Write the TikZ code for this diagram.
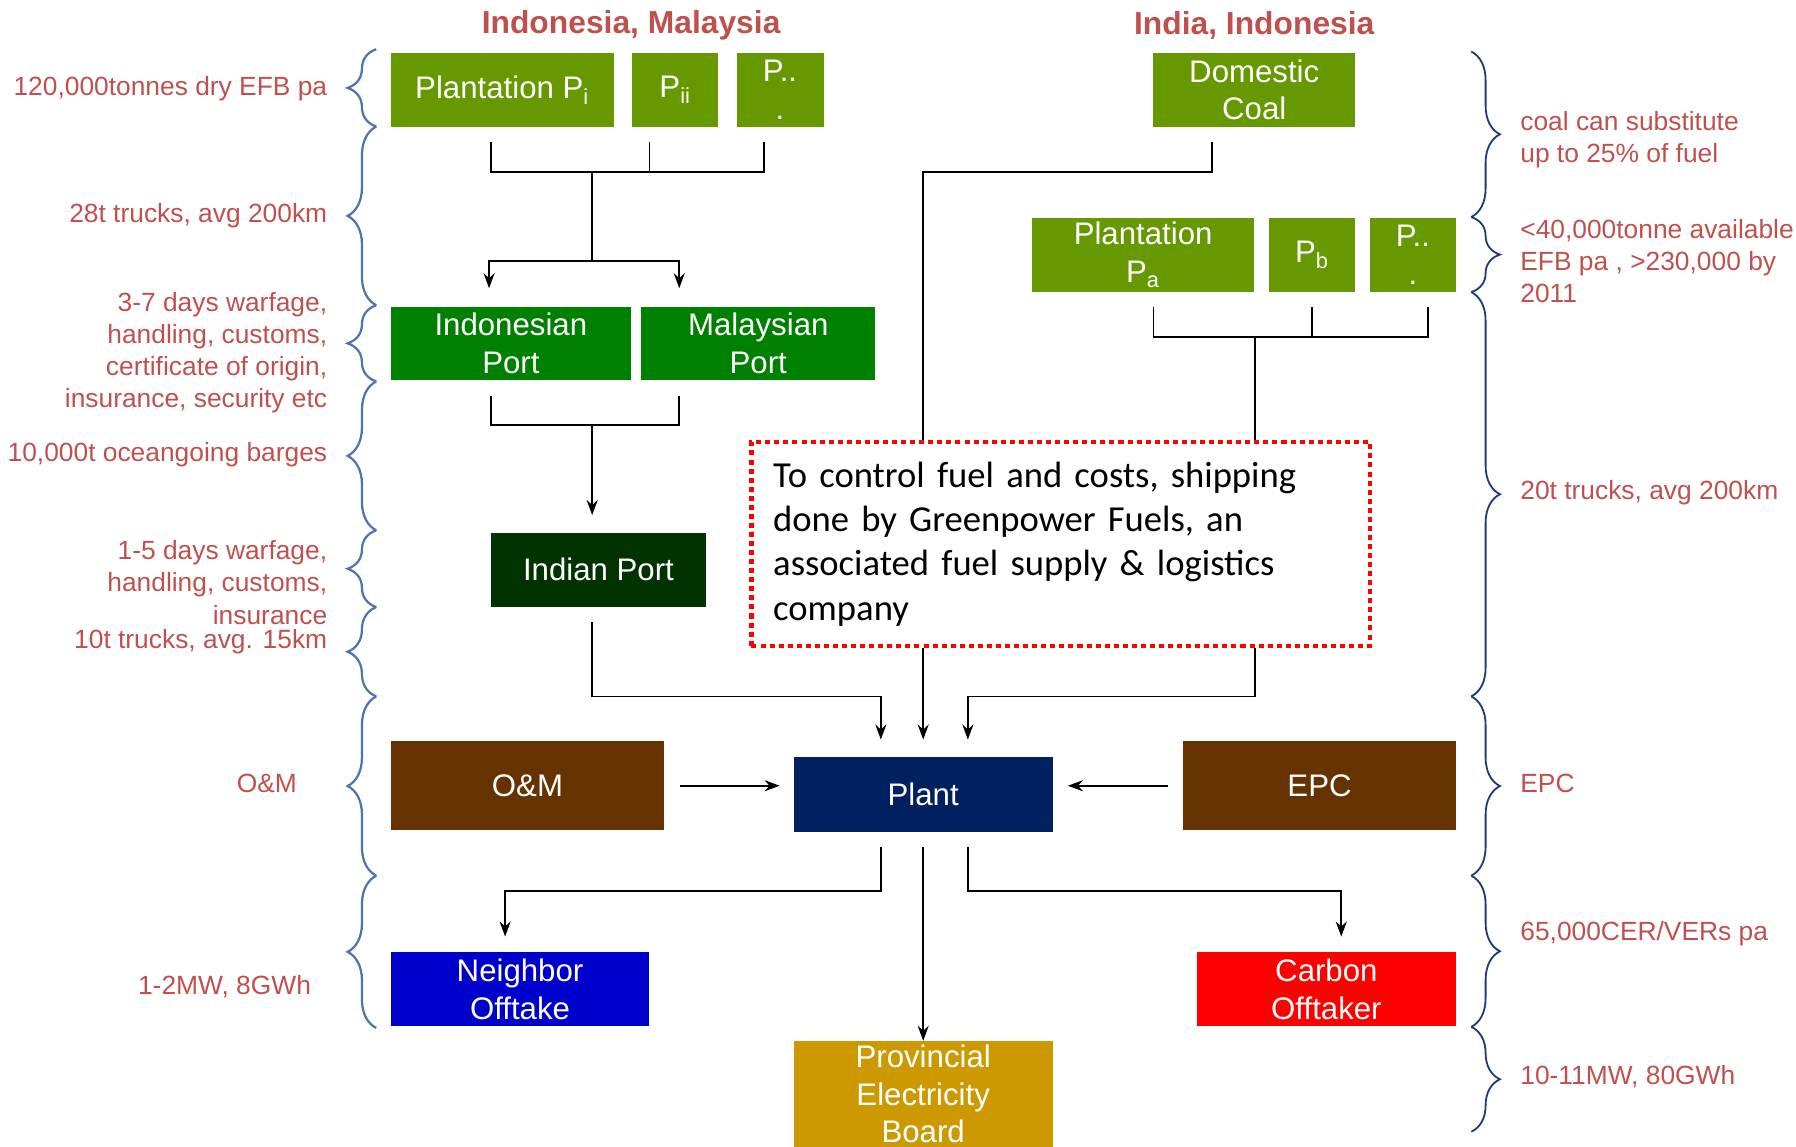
\documentclass[tikz,border=0pt]{standalone}
\usepackage{fontspec}
\setmainfont{Liberation Sans}
\newfontfamily\notefont{Carlito}
\usetikzlibrary{arrows.meta,decorations.pathreplacing}

\definecolor{plantgreen}{HTML}{669900}
\definecolor{portgreen}{HTML}{008000}
\definecolor{indgreen}{HTML}{003300}
\definecolor{ombrown}{HTML}{663300}
\definecolor{plantnavy}{HTML}{002060}
\definecolor{nbrblue}{HTML}{0000CC}
\definecolor{carbred}{HTML}{FF0000}
\definecolor{pebgold}{HTML}{CC9900}
\definecolor{labelred}{HTML}{C0504D}
\definecolor{lbracecol}{HTML}{4F72B0}
\definecolor{rbracecol}{HTML}{1F3A78}

\begin{document}
\begin{tikzpicture}[x=0.02cm, y=-0.02cm, >={Stealth[length=7.5pt,width=5.5pt,inset=2.5pt]},
    box/.style={fill=#1, text=white, inner sep=0pt, align=center, font=\fontsize{15.5}{18.8}\selectfont},
    lab/.style={text=labelred, inner sep=0pt, font=\fontsize{13.1}{16}\selectfont},
    title/.style={text=labelred, inner sep=0pt, font=\fontsize{15.8}{19}\selectfont\bfseries},
    note/.style={draw=red, line width=2.2pt, dash pattern=on 2.5pt off 2pt, fill=white,
        inner xsep=0.38cm, align=left, font=\notefont\fontsize{18.2}{22}\selectfont},
    wire/.style={line width=0.9pt},
    feed/.style={wire, ->},
    lbrace/.style={draw=lbracecol, line width=1.1pt, decorate, decoration={brace, amplitude=0.5cm}},
    rbrace/.style={draw=rbracecol, line width=0.9pt, decorate, decoration={brace, amplitude=0.5cm}}]
    \useasboundingbox (0,0) rectangle (1568,1001);

    % Titles
    \node[title] (ttl) at (551,22) {Indonesia, Malaysia};
    \node[title] (ttr) at (1095,22) {India, Indonesia};

    % Plantations (left) and ports
    \node[box=plantgreen, minimum width=3.9cm, minimum height=1.3cm] (pi) at (438.5,78.5) {Plantation P\textsubscript{i}};
    \node[box=plantgreen, minimum width=1.5cm, minimum height=1.3cm] (pii) at (589.5,78.5) {P\textsubscript{ii}};
    \node[box=plantgreen, minimum width=1.52cm, minimum height=1.3cm] (pleft) at (681,78.5) {P..\\.};
    \node[box=portgreen, minimum width=4.2cm, minimum height=1.28cm] (idport) at (446,300) {Indonesian\\Port};
    \node[box=portgreen, minimum width=4.08cm, minimum height=1.28cm] (myport) at (662,300) {Malaysian\\Port};
    \node[box=indgreen, minimum width=3.74cm, minimum height=1.3cm] (inport) at (522.5,497.5) {Indian Port};

    % Coal and plantations (right)
    \node[box=plantgreen, minimum width=3.52cm, minimum height=1.3cm] (coal) at (1095,78.5) {Domestic\\Coal};
    \node[box=plantgreen, minimum width=3.88cm, minimum height=1.3cm] (pa) at (998,222.5) {Plantation\\P\textsubscript{a}};
    \node[box=plantgreen, minimum width=1.5cm, minimum height=1.3cm] (pb) at (1145.5,222.5) {P\textsubscript{b}};
    \node[box=plantgreen, minimum width=1.5cm, minimum height=1.3cm] (pright) at (1233.5,222.5) {P..\\.};

    % Shipping note
    \node[note, minimum width=10.8cm, minimum height=3.56cm, text width=10.04cm] (note) at (926,475)
        {\raisebox{-3pt}{}To control fuel and costs, shipping\\done by Greenpower Fuels, an\\associated fuel supply \& logistics\\company};

    % Plant, contractors and offtakers
    \node[box=ombrown, minimum width=4.78cm, minimum height=1.56cm] (om) at (460.5,686) {O\&M};
    \node[box=plantnavy, minimum width=4.52cm, minimum height=1.3cm] (plant) at (806,693.5) {Plant};
    \node[box=ombrown, minimum width=4.76cm, minimum height=1.56cm] (epc) at (1152,686) {EPC};
    \node[box=nbrblue, minimum width=4.52cm, minimum height=1.3cm] (nbr) at (454,863.5) {Neighbor\\Offtake};
    \node[box=carbred, minimum width=4.52cm, minimum height=1.3cm] (carbon) at (1158,863.5) {Carbon\\Offtaker};
    \node[box=pebgold, minimum width=4.52cm, minimum height=1.84cm] (peb) at (806,955) {Provincial\\Electricity\\Board};

    % Side notes (left)
    \node[lab, anchor=east] (l1) at (286,77) {120,000tonnes dry EFB pa};
    \node[lab, anchor=east] (l2) at (286,188) {28t trucks, avg 200km};
    \node[lab, anchor=east, align=right] (l3) at (286,308) {3-7 days warfage,\\handling, customs,\\certificate of origin,\\insurance, security etc};
    \node[lab, anchor=east] (l4) at (286,397) {10,000t oceangoing barges};
    \node[lab, anchor=east, align=right] (l5) at (286,508.5) {1-5 days warfage,\\handling, customs,\\insurance};
    \node[lab, anchor=east] (l6) at (286,560) {10t trucks, avg. 15km};
    \node[lab] (l7) at (233,684) {O\&M};
    \node[lab] (l8) at (196,861) {1-2MW, 8GWh};

    % Side notes (right)
    \node[lab, anchor=west, align=left] (r1) at (1327,122) {coal can substitute\\up to 25\% of fuel};
    \node[lab, anchor=west, align=left] (r2) at (1327,228) {<40,000tonne available\\EFB pa , >230,000 by\\2011};
    \node[lab, anchor=west] (r3) at (1327,430) {20t trucks, avg 200km};
    \node[lab, anchor=west] (r4) at (1327,684) {EPC};
    \node[lab, anchor=west] (r5) at (1327,815) {65,000CER/VERs pa};
    \node[lab, anchor=west] (r6) at (1327,940) {10-11MW, 80GWh};

    % Braces
    \foreach \a/\b in {43/110.5, 110.5/266.5, 266.5/333, 333/463, 463/530, 530/608, 608/764.5, 764.5/897.5}
        \draw[lbrace] (328.5,\b) -- (328.5,\a);
    \foreach \a/\b in {45/189.5, 189.5/255, 255/608, 608/764.5, 764.5/896.5, 896.5/988}
        \draw[rbrace] (1284.5,\a) -- (1284.5,\b);

    % Left supply chain
    \coordinate (lbus) at (517,150);
    \coordinate (lfork) at (517,228);
    \draw[wire, shorten <=0.26cm, shorten >=0.26cm] ([xshift=-0.19cm]pi.south) |- ([xshift=-0.28cm]pleft.south |- lbus) -- ([xshift=-0.28cm]pleft.south);
    \draw[wire, shorten <=0.26cm] ([xshift=-0.45cm]pii.south) -- ([xshift=-0.45cm]pii.south |- lbus);
    \draw[wire] (lbus) -- (lfork);
    \draw[feed, shorten >=0.32cm] (lfork) -| ([xshift=-0.38cm]idport.north);
    \draw[feed, shorten >=0.32cm] (lfork) -| ([xshift=-1.38cm]myport.north);

    \coordinate (pbus) at (517,371);
    \draw[wire, shorten <=0.26cm, shorten >=0.26cm] ([xshift=-0.34cm]idport.south) |- ([xshift=-1.38cm]myport.south |- pbus) -- ([xshift=-1.38cm]myport.south);
    \draw[feed, shorten >=0.3cm] (pbus) -- (pbus |- inport.north);

    \coordinate (rail) at (806,608);
    \draw[feed, shorten <=0.26cm, shorten >=0.3cm] ([xshift=-0.11cm]inport.south) |- ([xshift=-0.74cm]plant.north |- rail) -- ([xshift=-0.74cm]plant.north);

    % Right supply chain
    \coordinate (cbend) at (806,150);
    \draw[wire, shorten <=0.26cm] ([xshift=-0.74cm]coal.south) |- (cbend) -- (cbend |- note.north);
    \draw[feed, shorten >=0.3cm] (note.south -| plant.north) -- (plant.north);

    \coordinate (rbus) at (1096,294);
    \draw[wire, shorten <=0.26cm, shorten >=0.26cm] ([xshift=0.18cm]pa.south) |- ([xshift=0.27cm]pright.south |- rbus) -- ([xshift=0.27cm]pright.south);
    \draw[wire, shorten <=0.26cm] (pb.south) -- (pb.south |- rbus);
    \draw[wire] (rbus) -- (rbus |- note.north);
    \draw[feed, shorten >=0.3cm] (rbus |- note.south) |- ([xshift=0.78cm]plant.north |- rail) -- ([xshift=0.78cm]plant.north);

    % Contractors
    \draw[feed, shorten <=0.26cm, shorten >=0.24cm] (om.east) -- (om.east -| plant.west);
    \draw[feed, shorten <=0.26cm, shorten >=0.26cm] (epc.west) -- (epc.west -| plant.east);

    % Offtake
    \coordinate (obus) at (806,778);
    \draw[feed, shorten <=0.26cm, shorten >=0.26cm] ([xshift=-0.74cm]plant.south) |- ([xshift=-0.26cm]nbr.north |- obus) -- ([xshift=-0.26cm]nbr.north);
    \draw[feed, shorten <=0.26cm] (plant.south) -- (peb.north);
    \draw[feed, shorten <=0.26cm, shorten >=0.26cm] ([xshift=0.78cm]plant.south) |- ([xshift=0.26cm]carbon.north |- obus) -- ([xshift=0.26cm]carbon.north);
\end{tikzpicture}
\end{document}
